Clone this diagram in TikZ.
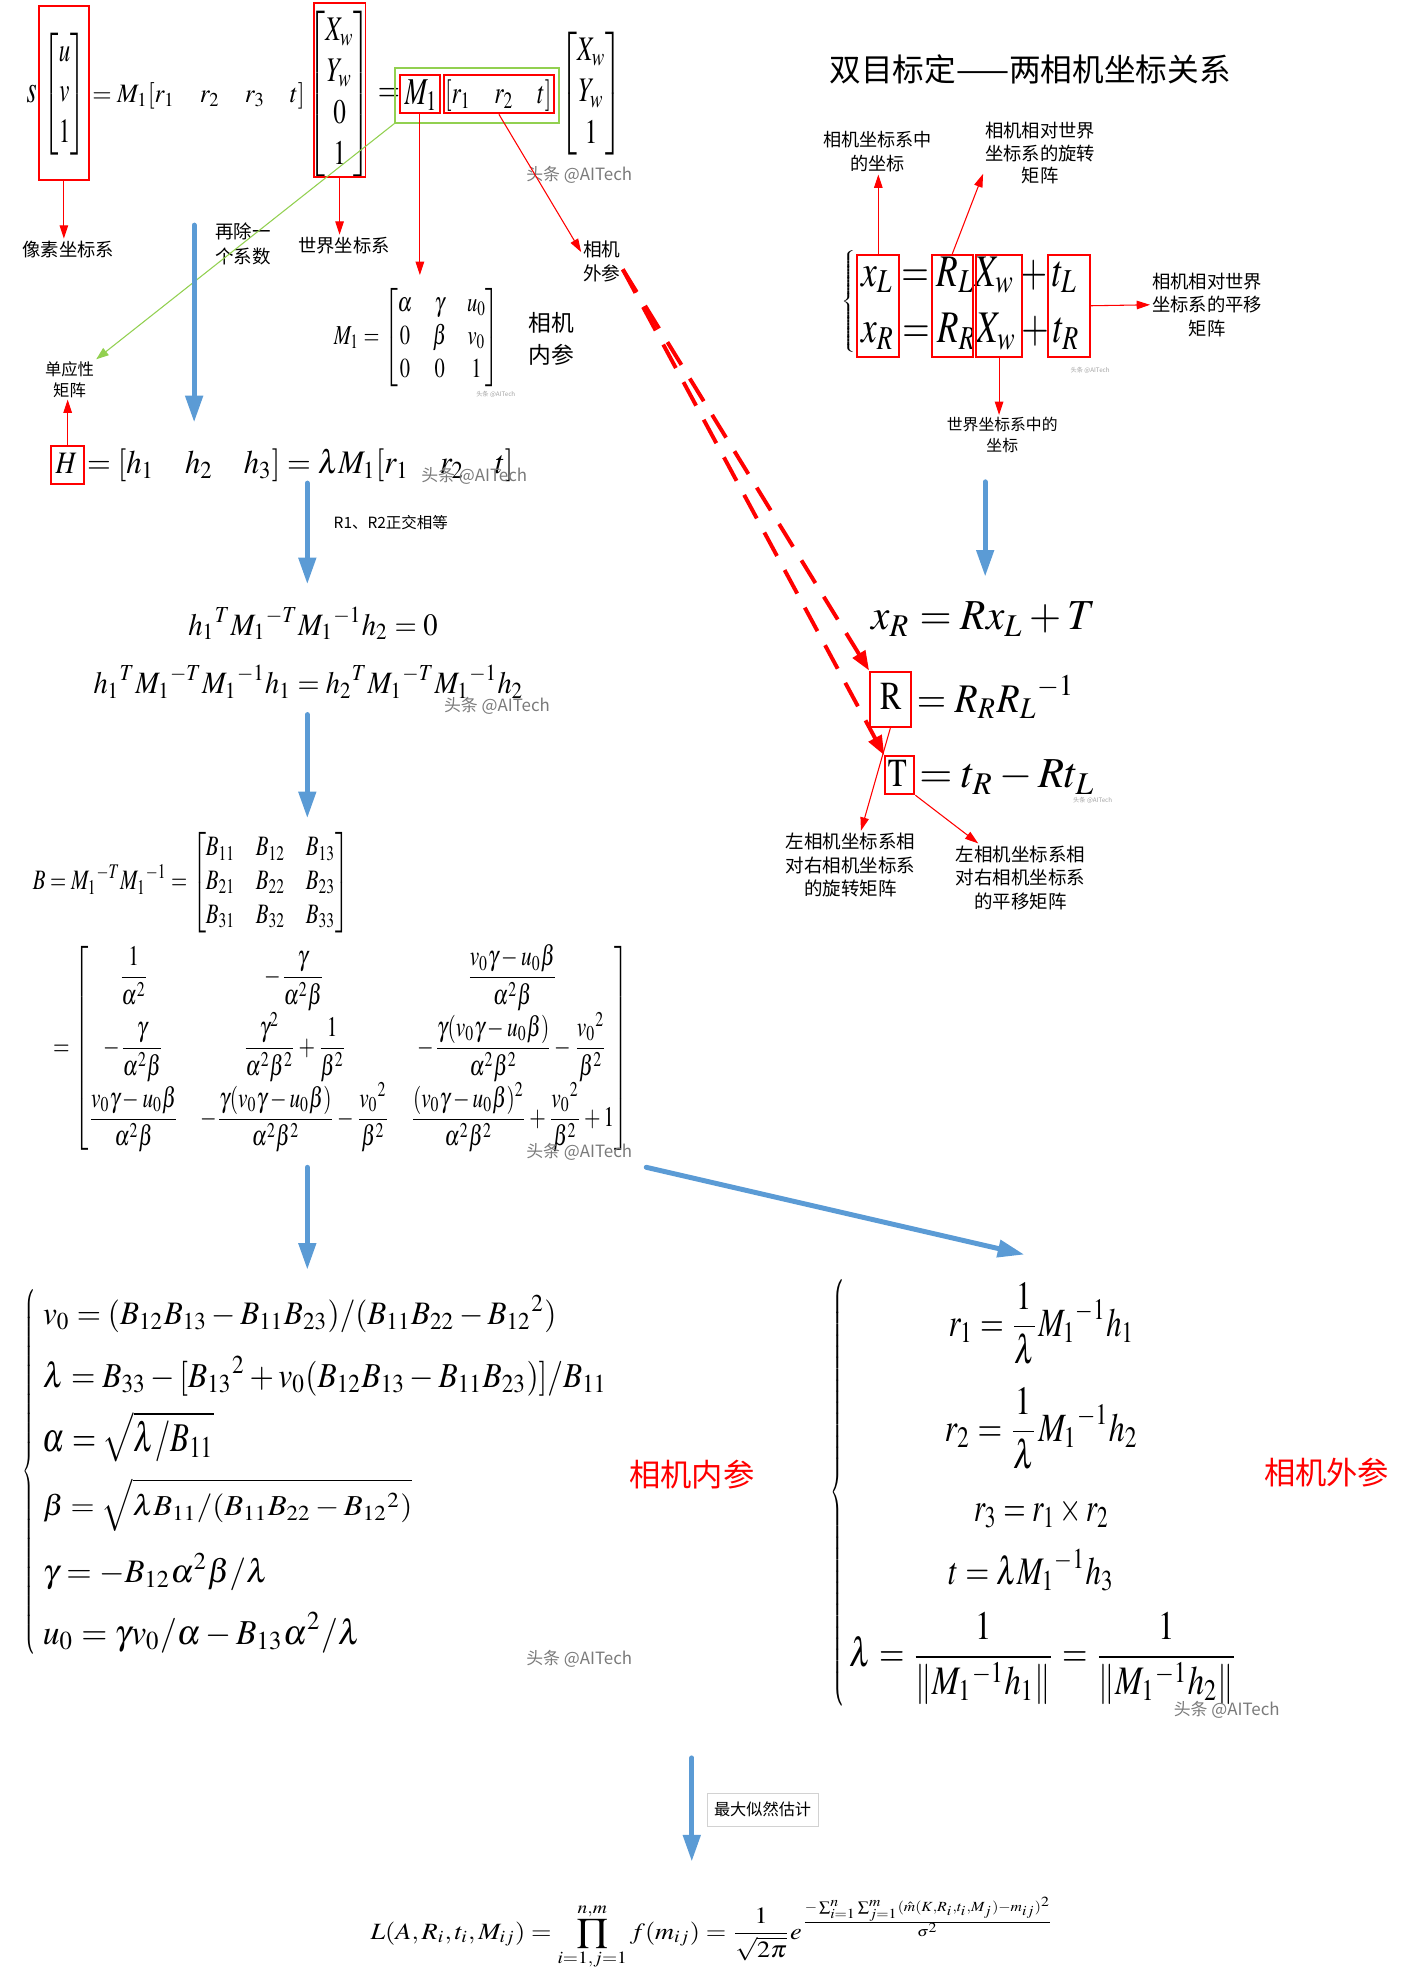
\documentclass[tikz,border=0pt]{standalone}
\usepackage{amsmath,amssymb}
\usepackage{mathptmx}
\usepackage[no-math]{fontspec}
\usepackage{graphicx}
\newfontfamily\cjk{Noto Sans CJK SC}
\usetikzlibrary{arrows.meta,positioning,fit,calc}
\definecolor{flowblue}{HTML}{5B9BD5}
\definecolor{markgray}{HTML}{7A7A7A}
\definecolor{lightgreen}{HTML}{92D050}
\newlength\unitlen
\setlength\unitlen{0.025cm}
\newcommand\fitmath[3]{\resizebox*{#1\unitlen}{#2\unitlen}{$\displaystyle #3$}}
\newcommand\cjkfs[2]{\cjk\fontsize{#1}{#2}\selectfont}
\newcommand\bigbrace[2]{\resizebox*{#1\unitlen}{#2\unitlen}{$\left\{\rule{0pt}{60pt}\right.$}}
\tikzset{
  eq/.style={inner sep=0pt,outer sep=0pt},
  redbox/.style={draw=red,line width=1.1pt,inner sep=0pt},
  greenbox/.style={draw=lightgreen,line width=1.1pt,inner sep=0pt},
  lbl/.style={font=\cjkfs{10.3}{13.3},align=center,inner sep=1pt},
  bignote/.style={font=\cjkfs{17.6}{21},text=red,inner sep=0pt},
  wmark/.style={font=\cjkfs{9.5}{11},text=markgray,inner sep=0pt},
  tinymark/.style={font=\cjkfs{3.5}{4},text=markgray!70,inner sep=0pt},
  redarrow/.style={-{Triangle[length=7.5pt,width=4.8pt]},red,line width=0.6pt},
  greenarrow/.style={-{Triangle[length=7pt,width=5pt]},lightgreen,line width=0.6pt},
  bluearrow/.style={-{Triangle[length=15pt,width=9.5pt]},flowblue,line width=2.8pt,line cap=round},
  dasharrow/.style={-{Triangle[length=11pt,width=8pt]},red,line width=2.2pt,dash pattern=on 15pt off 9pt},
}

\begin{document}
\begin{tikzpicture}[x=0.025cm,y=-0.025cm]
  \useasboundingbox (0,0) rectangle (1113,1568);

  % projection equation
  \node[eq] (s) at (25,74) {\fitmath{8}{14}{s}};
  \node[eq] (uv) at (51,74.2) {\fitmath{33}{96.5}{\begin{bmatrix}u\\v\\1\end{bmatrix}}};
  \node[eq] (proj) at (157,75.5) {\fitmath{168}{21}{=M_1[r_1\quad r_2\quad r_3\quad t]}};
  \node[eq] (xw4) at (268.5,74.5) {\fitmath{49}{131}{\begin{bmatrix}X_w\\Y_w\\0\\1\end{bmatrix}}};
  \node[eq,font=\fontsize{20}{24}\selectfont,xscale=0.8] (eqb) at (307.5,75) {$=$};
  \node[eq] (m1) at (333,75) {\fitmath{26}{24}{M_1}};
  \node[eq] (rt) at (394,75.5) {\fitmath{84}{25}{[r_1\quad r_2\quad t]}};
  \node[eq] (xw3) at (467.5,74) {\fitmath{49}{98}{\begin{bmatrix}X_w\\Y_w\\1\end{bmatrix}}};
  \node[redbox,fit={(30.5,4.7) (70.5,142)}] (pixbox) {};
  \node[redbox,fit={(248,2) (289,140)}] (worldbox) {};
  \node[redbox,fit={(316,59.5) (348,89.6)}] (m1box) {};
  \node[redbox,fit={(351,59.5) (438,89.6)}] (rtbox) {};
  \node[greenbox,fit={(312.5,54) (442,97)}] (extbox) {};
  \node[wmark] (wm1) at (458,138) {头条 @AITech};

  \node[lbl] (pixlbl) at (54,197) {像素坐标系};
  \node[lbl] (worldlbl) at (272,194) {世界坐标系};
  \node[lbl,font=\cjkfs{10.5}{13.5}] (extlbl) at (476,207) {相机\\外参};
  \node[lbl,font=\cjkfs{10.4}{13.8}] (divlbl) at (192,193) {再除一\\个系数};
  \node[lbl,font=\cjkfs{9.2}{11.7}] (homolbl) at (55,300) {单应性\\矩阵};

  \draw[redarrow] (pixbox.south) -- (pixbox.south |- pixlbl.north);
  \draw[redarrow] (worldbox.south) -- (worldbox.south |- worldlbl.north);
  \draw[redarrow] (rtbox.south) -- (extlbl.155);
  \draw[greenarrow] (extbox.south west) -- (homolbl.north east);

  \coordinate (flow1a) at (153.5,178);
  \coordinate (flow1b) at (153.5,334);
  \draw[bluearrow] (flow1a) -- (flow1b);

  % intrinsic matrix
  \node[eq] (intr) at (329.5,267) {\fitmath{131}{78}{M_1=\begin{bmatrix}\alpha&\gamma&u_0\\0&\beta&v_0\\0&0&1\end{bmatrix}}};
  \node[lbl,font=\cjkfs{12.8}{17.7}] (intrlbl) at (436,268) {相机\\内参};
  \node[tinymark] (wm2) at (392,312) {头条 @AITech};
  \draw[redarrow,shorten >=7.5pt] (m1box.south) -- (m1box.south |- intr.north);

  % homography
  \node[eq] (hH) at (52.5,366) {\fitmath{17}{16}{H}};
  \node[redbox,fit={(40.4,353) (66.6,383)}] (hbox) {};
  \node[eq] (hrest) at (237.5,368) {\fitmath{337}{26}{=[h_1\quad h_2\quad h_3]=\lambda M_1[r_1\quad r_2\quad t]}};
  \node[wmark] (wm3) at (375,376) {头条 @AITech};
  \draw[redarrow] (hbox.north) -- (hbox.north |- homolbl.south);

  \coordinate (flow2a) at (243,382);
  \coordinate (flow2b) at (243,462);
  \draw[bluearrow] (flow2a) -- (flow2b);
  \node[lbl,font=\cjkfs{8.7}{10}] (orthlbl) at (309,413) {R1、R2正交相等};

  \node[eq] (hh1) at (247.5,493) {\fitmath{197}{26}{{h_1}^{T}{M_1}^{-T}{M_1}^{-1}h_2=0}};
  \node[eq] (hh2) at (244,539) {\fitmath{340}{26}{{h_1}^{T}{M_1}^{-T}{M_1}^{-1}h_1={h_2}^{T}{M_1}^{-T}{M_1}^{-1}h_2}};
  \node[wmark] (wm4) at (393,558) {头条 @AITech};

  \coordinate (flow3a) at (243,565);
  \coordinate (flow3b) at (243,647);
  \draw[bluearrow] (flow3a) -- (flow3b);

  % B matrix
  \node[eq] (bdef) at (151,698) {\fitmath{250}{80}{B=M_1{}^{-T}M_1{}^{-1}=\begin{bmatrix}B_{11}&B_{12}&B_{13}\\B_{21}&B_{22}&B_{23}\\B_{31}&B_{32}&B_{33}\end{bmatrix}}};
  \node[eq] (bfull) at (269.5,829) {\fitmath{455}{164}{=\begin{bmatrix}
    \dfrac{1}{\alpha^2} & -\dfrac{\gamma}{\alpha^2\beta} & \dfrac{v_0\gamma-u_0\beta}{\alpha^2\beta}\\[6pt]
    -\dfrac{\gamma}{\alpha^2\beta} & \dfrac{\gamma^2}{\alpha^2\beta^2}+\dfrac{1}{\beta^2} & -\dfrac{\gamma(v_0\gamma-u_0\beta)}{\alpha^2\beta^2}-\dfrac{v_0{}^2}{\beta^2}\\[6pt]
    \dfrac{v_0\gamma-u_0\beta}{\alpha^2\beta} & -\dfrac{\gamma(v_0\gamma-u_0\beta)}{\alpha^2\beta^2}-\dfrac{v_0{}^2}{\beta^2} & \dfrac{(v_0\gamma-u_0\beta)^2}{\alpha^2\beta^2}+\dfrac{v_0{}^2}{\beta^2}+1
  \end{bmatrix}}};
  \node[wmark] (wm5) at (458,911) {头条 @AITech};

  \coordinate (flow4a) at (243,923);
  \coordinate (flow4b) at (243,1004);
  \draw[bluearrow] (flow4a) -- (flow4b);
  \coordinate (flow5a) at (511,923);
  \coordinate (flow5b) at (810,992);
  \draw[bluearrow] (flow5a) -- (flow5b);

  % intrinsic solution
  \node[eq] (lbrace) at (24,1163) {\bigbrace{12}{290}};
  \node[eq,anchor=west] (iv0) at (34,1039) {\fitmath{406}{30}{v_0=(B_{12}B_{13}-B_{11}B_{23})/(B_{11}B_{22}-B_{12}{}^2)}};
  \node[eq,anchor=west] (ilam) at (34,1088) {\fitmath{446}{32}{\lambda=B_{33}-[B_{13}{}^2+v_0(B_{12}B_{13}-B_{11}B_{23})]/B_{11}}};
  \node[eq,anchor=west] (ialpha) at (34,1136) {\fitmath{135}{40}{\alpha=\sqrt{\lambda/B_{11}}}};
  \node[eq,anchor=west] (ibeta) at (34,1190) {\fitmath{292}{42}{\beta=\sqrt{\lambda B_{11}/(B_{11}B_{22}-B_{12}{}^2)}}};
  \node[eq,anchor=west] (igamma) at (34,1243) {\fitmath{178}{30}{\gamma=-B_{12}\alpha^2\beta/\lambda}};
  \node[eq,anchor=west] (iu0) at (34,1291) {\fitmath{251}{32}{u_0=\gamma v_0/\alpha-B_{13}\alpha^2/\lambda}};
  \node[bignote] (intrname) at (547,1166) {相机内参};
  \node[wmark] (wm6) at (458,1312) {头条 @AITech};

  % extrinsic solution
  \node[eq] (rbrace) at (663.5,1179.5) {\bigbrace{13}{339}};
  \node[eq] (er1) at (823.5,1046.5) {\fitmath{147}{65}{r_1=\frac{1}{\lambda}M_1{}^{-1}h_1}};
  \node[eq] (er2) at (823.5,1129.5) {\fitmath{153}{65}{r_2=\frac{1}{\lambda}M_1{}^{-1}h_2}};
  \node[eq] (er3) at (823.5,1196) {\fitmath{107}{24}{r_3=r_1\times r_2}};
  \node[eq] (et) at (815.5,1241.5) {\fitmath{131}{33}{t=\lambda M_1{}^{-1}h_3}};
  \node[eq] (elam) at (825.5,1311.5) {\fitmath{307}{73}{\lambda=\frac{1}{\|M_1{}^{-1}h_1\|}=\frac{1}{\|M_1{}^{-1}h_2\|}}};
  \node[bignote] (extname) at (1049,1164) {相机外参};
  \node[wmark] (wm7) at (970,1352) {头条 @AITech};

  % maximum likelihood
  \coordinate (flow6a) at (547,1390);
  \coordinate (flow6b) at (547,1472);
  \draw[bluearrow] (flow6a) -- (flow6b);
  \node[draw=gray!35,line width=0.5pt,minimum width=62.4pt,minimum height=18.4pt,inner sep=0pt,font=\cjkfs{9.1}{10}] (mlelbl) at (603,1431) {最大似然估计};
  \node[eq] (mle) at (563.5,1528.5) {\fitmath{541}{57}{L(A,R_i,t_i,M_{ij})=\prod_{i=1,j=1}^{n,m}f(m_{ij})=\frac{1}{\sqrt{2\pi}}e^{\frac{-\sum_{i=1}^{n}\sum_{j=1}^{m}(\hat{m}(K,R_i,t_i,M_j)-m_{ij})^2}{\sigma^2}}}};

  % stereo calibration
  \node[inner sep=0pt,font=\cjkfs{17.8}{21}] (title) at (814.5,55) {双目标定——两相机坐标关系};
  \node[eq] (sbrace) at (671.5,238.5) {\bigbrace{13}{81}};
  \node[eq] (rowl) at (766.5,217.5) {\fitmath{171}{29}{x_L=R_LX_w+t_L}};
  \node[eq] (rowr) at (767.5,262.5) {\fitmath{173}{29}{x_R=R_RX_w+t_R}};
  \node[redbox,fit={(678,201.5) (711,282)}] (xbox) {};
  \node[redbox,fit={(737,201.5) (769,282)}] (rlbox) {};
  \node[redbox,fit={(772,201.5) (808,282)}] (xwbox) {};
  \node[redbox,fit={(829,201.5) (862,282)}] (tlbox) {};
  \node[tinymark] (wm8) at (862,293) {头条 @AITech};

  \node[lbl,font=\cjkfs{10.2}{13.8}] (camlbl) at (694,120) {相机坐标系中\\的坐标};
  \node[lbl,font=\cjkfs{10.3}{12.8}] (rotlbl) at (822.5,121) {相机相对世界\\坐标系的旋转\\矩阵};
  \node[lbl,font=\cjkfs{10.3}{13.2}] (translbl) at (954.5,241) {相机相对世界\\坐标系的平移\\矩阵};
  \node[lbl,font=\cjkfs{8.9}{12}] (worldptlbl) at (792.5,344) {世界坐标系中的\\坐标};
  \draw[redarrow] (xbox.north) -- (xbox.north |- camlbl.south);
  \draw[redarrow] (rlbox.north) -- (rotlbl.200);
  \draw[redarrow] (tlbox.east) -- (translbl.west);
  \draw[redarrow] (xwbox.south) -- (xwbox.south |- worldptlbl.north);

  \coordinate (flow7a) at (779,381);
  \coordinate (flow7b) at (779,456);
  \draw[bluearrow] (flow7a) -- (flow7b);

  \node[eq] (xrel) at (777.5,489.5) {\fitmath{177}{27}{x_R=Rx_L+T}};
  \node[eq] (Rsym) at (704.5,550.5) {\fitmath{17}{21}{\mathrm{R}}};
  \node[redbox,fit={(688,531) (720,575)}] (Rbox) {};
  \node[eq] (Rrel) at (787.5,551) {\fitmath{125}{34}{=R_RR_L{}^{-1}}};
  \node[eq] (Tsym) at (709.5,611.5) {\fitmath{15}{21}{\mathrm{T}}};
  \node[redbox,fit={(700,598) (723,628)}] (Tbox) {};
  \node[eq] (Trel) at (796.5,614.5) {\fitmath{139}{27}{=t_R-Rt_L}};
  \node[tinymark] (wm9) at (864,633) {头条 @AITech};

  \node[lbl,font=\cjkfs{10.4}{13.3}] (rotlbl2) at (672.5,684) {左相机坐标系相\\对右相机坐标系\\的旋转矩阵};
  \node[lbl,font=\cjkfs{10.4}{13.3}] (translbl2) at (807,694) {左相机坐标系相\\对右相机坐标系\\的平移矩阵};
  \draw[redarrow] (Rbox.south) -- (rotlbl2.73);
  \draw[redarrow] (Tbox.south east) -- (translbl2.141);

  \draw[dasharrow] (extlbl.-20) -- (Rbox.north west);
  \draw[dasharrow] (extlbl.-20) -- (Tbox.north west);
\end{tikzpicture}
\end{document}
